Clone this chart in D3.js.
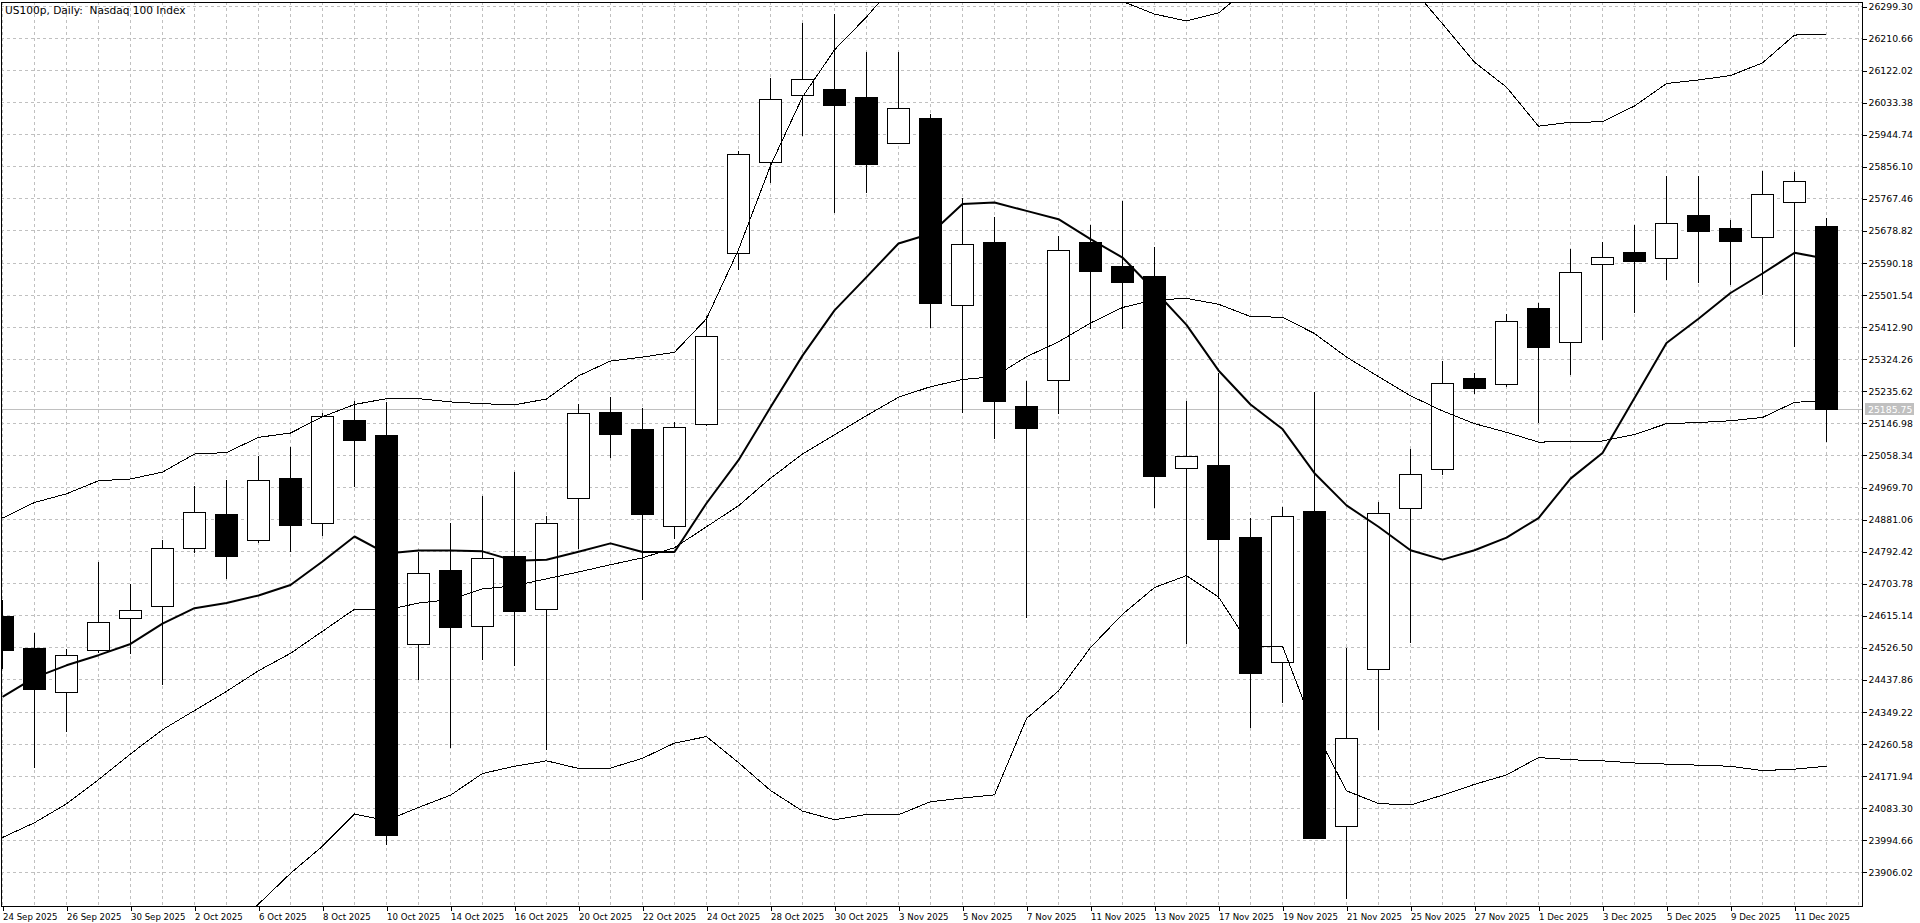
<!DOCTYPE html>
<html>
<head>
<meta charset="utf-8">
<script src="https://cdn.jsdelivr.net/npm/d3@7"></script>
<style>
  body { margin: 0; background: #fff; overflow: hidden; }
  svg text { font-family: "DejaVu Sans", Verdana, sans-serif; fill: #000; }
</style>
</head>
<body>
<svg id="chart"></svg>
<script>
const title = "US100p, Daily:  Nasdaq 100 Index";

const dates = [
  "24 Sep 2025", "25 Sep 2025", "26 Sep 2025", "29 Sep 2025", "30 Sep 2025",
  "1 Oct 2025", "2 Oct 2025", "3 Oct 2025", "6 Oct 2025", "7 Oct 2025",
  "8 Oct 2025", "9 Oct 2025", "10 Oct 2025", "13 Oct 2025", "14 Oct 2025",
  "15 Oct 2025", "16 Oct 2025", "17 Oct 2025", "20 Oct 2025", "21 Oct 2025",
  "22 Oct 2025", "23 Oct 2025", "24 Oct 2025", "27 Oct 2025", "28 Oct 2025",
  "29 Oct 2025", "30 Oct 2025", "31 Oct 2025", "3 Nov 2025", "4 Nov 2025",
  "5 Nov 2025", "6 Nov 2025", "7 Nov 2025", "10 Nov 2025", "11 Nov 2025",
  "12 Nov 2025", "13 Nov 2025", "14 Nov 2025", "17 Nov 2025", "18 Nov 2025",
  "19 Nov 2025", "20 Nov 2025", "21 Nov 2025", "24 Nov 2025", "25 Nov 2025",
  "26 Nov 2025", "27 Nov 2025", "28 Nov 2025", "1 Dec 2025", "2 Dec 2025",
  "3 Dec 2025", "4 Dec 2025", "5 Dec 2025", "8 Dec 2025", "9 Dec 2025",
  "10 Dec 2025", "11 Dec 2025", "12 Dec 2025"
];

const open = [
  24612, 24526, 24404, 24518, 24607, 24640, 24801, 24895, 24823, 24996,
  24870, 25156, 25113, 24537, 24740, 24586, 24778, 24634, 24939, 25178,
  25131, 24862, 25143, 25617, 25867, 26053, 26069, 26047, 25922, 25990,
  25472, 25646, 25193, 25265, 25646, 25580, 25552, 25022, 25032, 24833,
  24487, 24904, 24033, 24467, 24913, 25019, 25272, 25255, 25464, 25370,
  25586, 25619, 25604, 25723, 25685, 25660, 25757, 25690
];
const high = [
  24660, 24568, 24526, 24764, 24705, 24826, 24975, 24992, 25059, 25084,
  25176, 25210, 25207, 24794, 24874, 24948, 25015, 24893, 25203, 25221,
  25192, 25152, 25445, 25902, 26103, 26255, 26279, 26174, 26176, 26004,
  25772, 25720, 25265, 25667, 25698, 25762, 25637, 25209, 25287, 24887,
  24916, 25236, 24528, 24930, 25078, 25320, 25287, 25450, 25482, 25631,
  25649, 25697, 25832, 25832, 25711, 25846, 25843, 25715
];
const low = [
  24470, 24197, 24296, 24515, 24510, 24426, 24790, 24718, 24817, 24794,
  24836, 24973, 23983, 24438, 24251, 24494, 24478, 24247, 24802, 25054,
  24659, 24830, 25140, 25571, 25814, 25943, 25729, 25785, 25920, 25411,
  25176, 25105, 24611, 25173, 25409, 25410, 24915, 24540, 24662, 24306,
  24376, 23999, 23834, 24300, 24542, 25005, 25230, 25249, 25149, 25283,
  25378, 25453, 25544, 25536, 25530, 25503, 25360, 25097
];
const close = [
  24520, 24411, 24506, 24598, 24630, 24801, 24900, 24778, 24989, 24864,
  25167, 25101, 24007, 24731, 24583, 24773, 24628, 24870, 25175, 25116,
  24894, 25136, 25386, 25891, 26043, 26098, 26026, 25862, 26016, 25478,
  25642, 25207, 25134, 25626, 25568, 25536, 25001, 25055, 24827, 24457,
  24890, 23999, 24276, 24899, 25005, 25257, 25244, 25428, 25356, 25563,
  25605, 25594, 25699, 25678, 25650, 25779, 25815, 25185.75
];

// thick moving average
const ma10 = [
  24390, 24443, 24477, 24505, 24536, 24592, 24635, 24649, 24670, 24699,
  24764, 24833, 24786, 24794, 24794, 24792, 24766, 24769, 24791, 24814,
  24790, 24790, 24925, 25044, 25190, 25333, 25458, 25550, 25643, 25670,
  25752, 25756, 25733, 25710, 25655, 25604, 25513, 25418, 25292, 25198,
  25130, 25008, 24919, 24860, 24795, 24769, 24795, 24830, 24884, 24993,
  25064, 25216, 25368, 25435, 25506, 25560, 25617, 25601
];

// Bollinger bands (thin lines)
const bbUpper = [
  24884, 24927, 24951, 24987, 24992, 25011, 25061, 25065, 25107, 25119,
  25164, 25198, 25214, 25214, 25205, 25200, 25197, 25213, 25277, 25318,
  25329, 25342, 25435, 25626, 25858, 26048, 26178, 26269, 26371, 26394,
  26424, 26431, 26332, 26334, 26318, 26312, 26277, 26258, 26280, 26352,
  26348, 26488, 26527, 26456, 26354, 26250, 26144, 26075, 25967, 25978,
  25979, 26023, 26085, 26095, 26107, 26142, 26219, 26221
];
const bbMiddle = [
  24001, 24042, 24094, 24161, 24232, 24299, 24352, 24405, 24462, 24510,
  24571, 24632, 24630, 24649, 24659, 24688, 24697, 24716, 24735, 24755,
  24774, 24802, 24860, 24918, 24994, 25061, 25114, 25167, 25218, 25247,
  25267, 25275, 25330, 25371, 25423, 25466, 25487, 25491, 25475, 25441,
  25439, 25394, 25329, 25275, 25222, 25180, 25145, 25121, 25094, 25095,
  25097, 25115, 25145, 25148, 25153, 25162, 25204, 25208
];
const bbLower = [
  23118, 23157, 23237, 23335, 23472, 23587, 23643, 23745, 23817, 23902,
  23977, 24066, 24048, 24084, 24118, 24178, 24198, 24213, 24192, 24193,
  24220, 24262, 24280, 24208, 24131, 24074, 24050, 24065, 24064, 24100,
  24110, 24119, 24330, 24406, 24526, 24618, 24692, 24725, 24666, 24530,
  24530, 24300, 24130, 24095, 24091, 24118, 24148, 24174, 24222, 24216,
  24213, 24207, 24204, 24201, 24198, 24186, 24190, 24198
];

const priceTicks = [
  26299.30, 26210.66, 26122.02, 26033.38, 25944.74, 25856.10, 25767.46,
  25678.82, 25590.18, 25501.54, 25412.90, 25324.26, 25235.62, 25146.98,
  25058.34, 24969.70, 24881.06, 24792.42, 24703.78, 24615.14, 24526.50,
  24437.86, 24349.22, 24260.58, 24171.94, 24083.30, 23994.66, 23906.02
];
const lastPrice = 25185.75;

const W = 1920, H = 923;
const plot = { left: 1, top: 2, right: 1862, bottom: 906 };

const svg = d3.select("#chart").attr("width", W).attr("height", H);
svg.append("rect").attr("width", W).attr("height", H).attr("fill", "#fff");

// bar centres every 32 px, prices 88.64 per 32.07 px
const x = d3.scaleLinear().domain([0, 57]).range([2, 2 + 57 * 32]);
const y = d3.scaleLinear().domain([26299.30, 23906.02]).range([6, 6 + 27 * 32.07]);
const py = (v) => Math.round(y(v)) + 0.5;
const px = (i) => Math.round(x(i)) + 0.5;

svg.append("defs").append("clipPath").attr("id", "clip")
  .append("rect")
  .attr("x", plot.left).attr("y", plot.top)
  .attr("width", plot.right - plot.left).attr("height", plot.bottom - plot.top);

// grid
const grid = svg.append("g")
  .attr("stroke", "#c0c0c0")
  .attr("stroke-dasharray", "3,3")
  .attr("shape-rendering", "crispEdges");

grid.selectAll(".hgrid")
  .data(priceTicks)
  .enter()
  .append("line")
  .attr("x1", plot.left).attr("x2", plot.right)
  .attr("y1", (d) => py(d)).attr("y2", (d) => py(d));

grid.selectAll(".vgrid")
  .data(d3.range(0, 59))
  .enter()
  .append("line")
  .attr("x1", (d) => px(d)).attr("x2", (d) => px(d))
  .attr("y1", plot.top).attr("y2", plot.bottom);

const chart = svg.append("g").attr("clip-path", "url(#clip)");

// last price line
chart.append("line")
  .attr("x1", plot.left).attr("x2", plot.right)
  .attr("y1", py(lastPrice)).attr("y2", py(lastPrice))
  .attr("stroke", "#c0c0c0")
  .attr("shape-rendering", "crispEdges");

// candles
const bars = d3.range(dates.length);
const candles = chart.append("g").attr("shape-rendering", "crispEdges");

candles.selectAll(".wick")
  .data(bars)
  .enter()
  .append("line")
  .attr("x1", (i) => px(i)).attr("x2", (i) => px(i))
  .attr("y1", (i) => py(high[i])).attr("y2", (i) => py(low[i]))
  .attr("stroke", "#000");

candles.selectAll(".body")
  .data(bars)
  .enter()
  .append("rect")
  .attr("x", (i) => Math.round(x(i)) - 10.5)
  .attr("width", 22)
  .attr("y", (i) => py(Math.max(open[i], close[i])))
  .attr("height", (i) => Math.max(1, Math.round(y(Math.min(open[i], close[i]))) - Math.round(y(Math.max(open[i], close[i])))))
  .attr("fill", (i) => (close[i] >= open[i] ? "#fff" : "#000"))
  .attr("stroke", "#000");

// indicators
const line = (arr) => d3.line().x((d, i) => px(i)).y((d) => y(d))(arr);

[bbUpper, bbMiddle, bbLower].forEach((arr) => {
  chart.append("path")
    .attr("d", line(arr))
    .attr("fill", "none")
    .attr("stroke", "#000")
    .attr("stroke-width", 1)
    .attr("shape-rendering", "crispEdges");
});

chart.append("path")
  .attr("d", line(ma10))
  .attr("fill", "none")
  .attr("stroke", "#000")
  .attr("stroke-width", 2)
  .attr("stroke-linejoin", "round");

// frame
svg.append("rect")
  .attr("x", plot.left + 0.5).attr("y", plot.top + 0.5)
  .attr("width", plot.right - plot.left).attr("height", plot.bottom - plot.top)
  .attr("fill", "none")
  .attr("stroke", "#000")
  .attr("shape-rendering", "crispEdges");

// price axis
const yAxis = d3.axisRight(y)
  .tickValues(priceTicks)
  .tickSize(4)
  .tickPadding(2)
  .tickFormat(d3.format(".2f"));

const yg = svg.append("g")
  .attr("transform", `translate(${plot.right + 0.5},0.5)`)
  .call(yAxis);
yg.select(".domain").remove();
yg.selectAll(".tick line").attr("stroke", "#000").attr("shape-rendering", "crispEdges");
yg.selectAll(".tick text").attr("font-size", 9.3).attr("font-family", null);

// last price tag
const tagY = Math.round(y(lastPrice));
svg.append("rect")
  .attr("x", plot.right + 3).attr("y", tagY - 6)
  .attr("width", 49).attr("height", 12)
  .attr("fill", "#c0c0c0");
svg.append("text")
  .attr("x", plot.right + 6).attr("y", tagY + 3.5)
  .attr("font-size", 9.3)
  .style("fill", "#fff")
  .text(lastPrice.toFixed(2));

// date axis
const xAxis = d3.axisBottom(x)
  .tickValues(bars.filter((i) => i % 2 === 0))
  .tickSize(4)
  .tickPadding(3)
  .tickFormat((i) => dates[i]);

const xg = svg.append("g")
  .attr("transform", `translate(0.5,${plot.bottom + 0.5})`)
  .call(xAxis);
xg.select(".domain").remove();
xg.selectAll(".tick line").attr("stroke", "#000").attr("shape-rendering", "crispEdges");
xg.selectAll(".tick text")
  .attr("text-anchor", "start")
  .attr("x", 0)
  .attr("font-size", 8.6)
  .attr("font-family", null);

// title
svg.append("text")
  .attr("x", 5).attr("y", 14)
  .attr("font-size", 10.6)
  .attr("xml:space", "preserve")
  .style("white-space", "pre")
  .text(title);
</script>
</body>
</html>
